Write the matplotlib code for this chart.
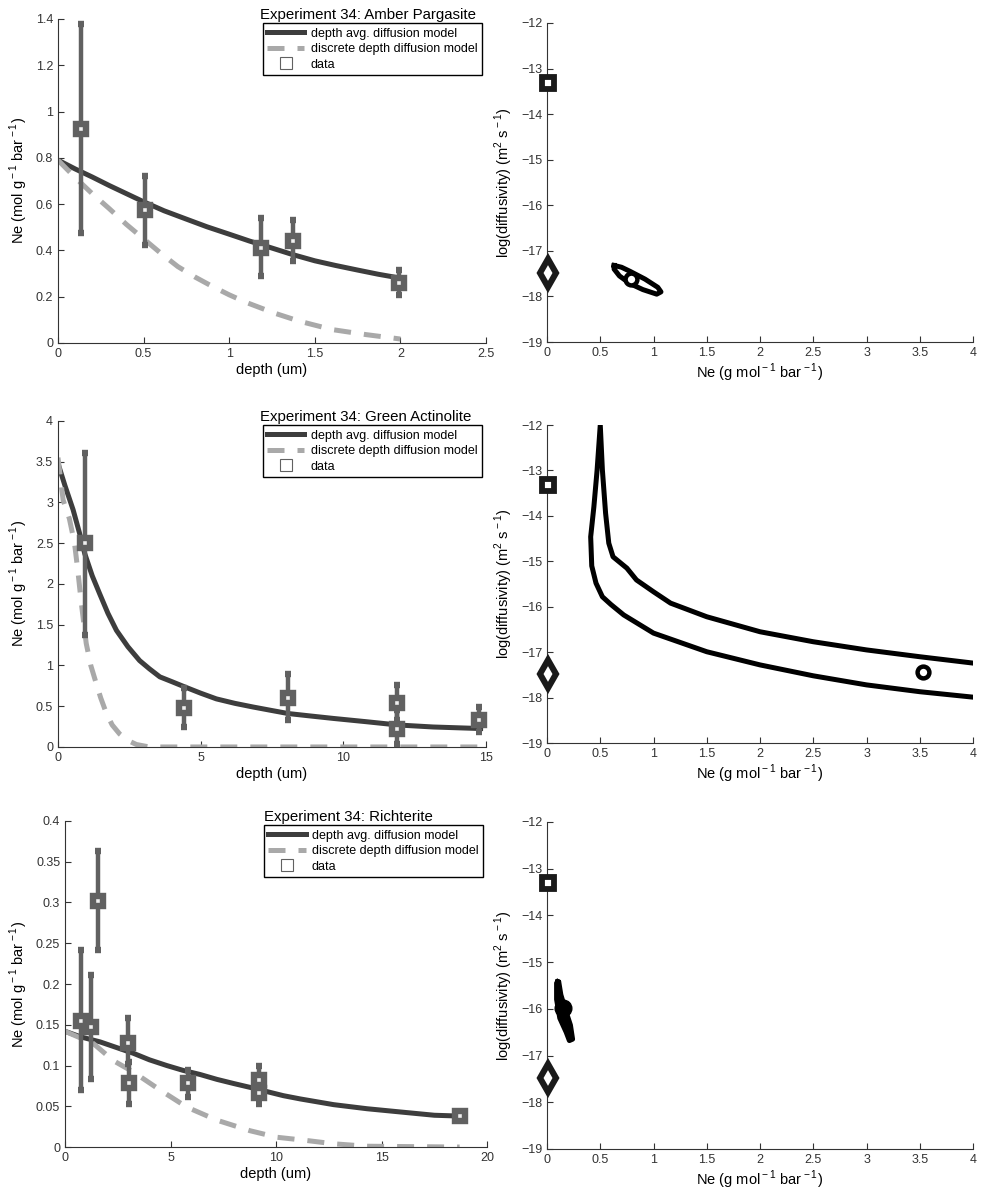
import numpy as np
import matplotlib
matplotlib.use('Agg')
import matplotlib.pyplot as plt
from matplotlib.lines import Line2D
from matplotlib.ticker import FuncFormatter

plt.rcParams['font.family'] = ['Liberation Sans', 'DejaVu Sans']
plt.rcParams['mathtext.fontset'] = 'custom'
plt.rcParams['mathtext.rm'] = 'Liberation Sans'
plt.rcParams['axes.edgecolor'] = '#333333'
plt.rcParams['xtick.color'] = '#333333'
plt.rcParams['ytick.color'] = '#333333'

# --- Amber Pargasite ---
amber_x = [0.136, 0.51, 1.187, 1.374, 1.99]
amber_y = [0.924, 0.576, 0.41, 0.441, 0.259]
amber_lo = [0.475, 0.424, 0.29, 0.355, 0.209]
amber_hi = [1.378, 0.722, 0.54, 0.53, 0.317]
amber_avg_x = [0, 0.1, 0.2, 0.3, 0.4, 0.5, 0.62, 0.75, 0.87, 1.0, 1.12, 1.25, 1.37, 1.5, 1.62, 1.75, 1.87, 2.0]
amber_avg_y = [0.79, 0.752, 0.717, 0.68, 0.645, 0.61, 0.571, 0.535, 0.502, 0.47, 0.44, 0.41, 0.382, 0.355, 0.335, 0.315, 0.297, 0.28]
amber_dis_x = [0, 0.1, 0.2, 0.3, 0.4, 0.5, 0.6, 0.7, 0.8, 0.9, 1.0, 1.1, 1.26, 1.41, 1.6, 1.8, 2.0]
amber_dis_y = [0.79, 0.715, 0.645, 0.58, 0.512, 0.45, 0.388, 0.33, 0.285, 0.245, 0.208, 0.175, 0.13, 0.094, 0.058, 0.036, 0.017]
amber_sq = (0.01, -13.31)
amber_dm = (0.01, -17.49)
amber_best = (0.79, -17.61)
amber_cont_x = [0.63, 0.70, 0.78, 0.92, 1.04, 1.07, 1.03, 0.90, 0.78, 0.68, 0.63, 0.63]
amber_cont_y = [-17.32, -17.36, -17.45, -17.62, -17.80, -17.90, -17.95, -17.85, -17.72, -17.55, -17.40, -17.32]

# --- Green Actinolite ---
green_x = [0.94, 4.42, 8.07, 11.89, 11.87, 14.75]
green_y = [2.50, 0.48, 0.60, 0.54, 0.225, 0.336]
green_lo = [1.37, 0.25, 0.33, 0.33, 0.04, 0.18]
green_hi = [3.61, 0.72, 0.89, 0.76, 0.45, 0.49]
green_avg_x = [0, 0.25, 0.53, 0.75, 0.94, 1.2, 1.46, 1.75, 2.05, 2.45, 2.86, 3.2, 3.57, 4.0, 4.42, 5.0, 5.55, 6.2, 6.84, 7.45, 8.07, 8.85, 9.65, 10.8, 11.9, 13.15, 14.9]
green_avg_y = [3.48, 3.2, 2.91, 2.63, 2.37, 2.1, 1.88, 1.64, 1.43, 1.23, 1.06, 0.96, 0.86, 0.8, 0.74, 0.66, 0.59, 0.535, 0.49, 0.45, 0.41, 0.38, 0.35, 0.31, 0.27, 0.245, 0.225]
green_dis_x = [0, 0.18, 0.4, 0.58, 0.7, 0.82, 0.99, 1.15, 1.34, 1.5, 1.7, 1.9, 2.16, 2.45, 2.75, 3.2, 15.0]
green_dis_y = [3.55, 3.03, 2.8, 2.5, 2.15, 1.76, 1.27, 1.0, 0.78, 0.6, 0.41, 0.27, 0.16, 0.08, 0.03, 0.0, 0.0]
green_sq = (0.01, -13.31)
green_dm = (0.01, -17.49)
green_best = (3.53, -17.44)
green_low_x = [0.50, 0.47, 0.44, 0.41, 0.42, 0.46, 0.52, 0.60, 0.72, 1.0, 1.5, 2.0, 2.5, 3.0, 3.5, 4.0]
green_low_y = [-12.0, -13.0, -13.8, -14.46, -15.1, -15.48, -15.78, -15.95, -16.18, -16.58, -16.99, -17.28, -17.52, -17.72, -17.87, -17.99]
green_up_x = [0.50, 0.52, 0.55, 0.58, 0.62, 0.75, 0.84, 1.0, 1.16, 1.5, 2.0, 2.5, 3.0, 3.5, 4.0]
green_up_y = [-12.0, -12.99, -13.94, -14.6, -14.9, -15.15, -15.41, -15.67, -15.92, -16.22, -16.55, -16.77, -16.95, -17.1, -17.24]

# --- Richterite ---
richt_x = [0.76, 1.22, 1.58, 2.96, 3.05, 5.85, 9.17, 9.17, 18.7]
richt_y = [0.155, 0.147, 0.302, 0.128, 0.079, 0.078, 0.082, 0.066, 0.038]
richt_lo = [0.070, 0.083, 0.242, 0.102, 0.053, 0.061, 0.066, 0.053, 0.035]
richt_hi = [0.242, 0.211, 0.363, 0.158, 0.104, 0.094, 0.099, 0.082, 0.041]
richt_avg_x = [0, 0.76, 1.66, 2.45, 3.24, 4.0, 4.82, 5.6, 6.4, 7.2, 7.98, 8.8, 9.57, 10.35, 11.15, 12.73, 14.31, 15.9, 17.5, 18.7]
richt_avg_y = [0.142, 0.135, 0.129, 0.122, 0.115, 0.107, 0.100, 0.094, 0.089, 0.083, 0.078, 0.073, 0.068, 0.063, 0.059, 0.052, 0.047, 0.043, 0.039, 0.038]
richt_dis_x = [0, 1.34, 2.29, 3.24, 4.5, 5.77, 7.19, 8.77, 10.04, 11.46, 12.73, 14.3, 18.7]
richt_dis_y = [0.142, 0.127, 0.106, 0.092, 0.070, 0.049, 0.033, 0.020, 0.012, 0.008, 0.004, 0.001, 0.0]
richt_sq = (0.01, -13.31)
richt_dm = (0.01, -17.49)
richt_best = (0.15, -15.98)
richt_cont_x = [0.10, 0.09, 0.09, 0.12, 0.18, 0.21, 0.24, 0.22, 0.17, 0.13, 0.11, 0.10]
richt_cont_y = [-15.42, -15.45, -15.8, -16.2, -16.5, -16.68, -16.65, -16.35, -16.0, -15.7, -15.42, -15.42]

titles = ["Experiment 34: Amber Pargasite", "Experiment 34: Green Actinolite",
          "Experiment 34: Richterite"]

c_avg = '#3d3d3d'
c_dis = '#a9a9a9'
c_dat = '#616161'

fig = plt.figure(figsize=(9.81, 11.9), dpi=100)

left_pos = [[0.0591, 0.7118, 0.4363, 0.2723],
            [0.0591, 0.3723, 0.4363, 0.2740],
            [0.0663, 0.0361, 0.4302, 0.2740]]
right_pos = [[0.5576, 0.7126, 0.4343, 0.2681],
             [0.5576, 0.3756, 0.4343, 0.2672],
             [0.5576, 0.0345, 0.4343, 0.2748]]


def fmt(v, pos):
    s = f'{v:g}'
    return s.replace('-', '\u2212')


def style(ax):
    ax.spines['top'].set_visible(False)
    ax.spines['right'].set_visible(False)
    ax.tick_params(direction='in', length=4, labelsize=9, width=0.8)
    ax.xaxis.set_major_formatter(FuncFormatter(fmt))
    ax.yaxis.set_major_formatter(FuncFormatter(fmt))


left_data = [
    (amber_x, amber_y, amber_lo, amber_hi, amber_avg_x, amber_avg_y, amber_dis_x, amber_dis_y,
     (0, 2.5), np.arange(0, 2.51, 0.5), (0, 1.4), np.arange(0, 1.41, 0.2)),
    (green_x, green_y, green_lo, green_hi, green_avg_x, green_avg_y, green_dis_x, green_dis_y,
     (0, 15), [0, 5, 10, 15], (0, 4), np.arange(0, 4.01, 0.5)),
    (richt_x, richt_y, richt_lo, richt_hi, richt_avg_x, richt_avg_y, richt_dis_x, richt_dis_y,
     (0, 20), [0, 5, 10, 15, 20], (0, 0.4), np.arange(0, 0.401, 0.05)),
]

for i, d in enumerate(left_data):
    x, y, lo, hi, ax_x, ax_y, dx, dy, xl, xt, yl, yt = d
    ax = fig.add_axes(left_pos[i])
    ax.plot(ax_x, ax_y, color=c_avg, lw=3.6, solid_capstyle='butt', solid_joinstyle='round', zorder=2)
    ax.plot(dx, dy, color=c_dis, lw=3.6, dashes=(3.4, 2.6), dash_capstyle='butt', zorder=2)
    y = np.array(y)
    yerr = [y - np.array(lo), np.array(hi) - y]
    ax.errorbar(x, y, yerr=yerr, fmt='s', color=c_dat, ecolor=c_dat, elinewidth=3.2,
                capsize=2.5, capthick=3.2, ms=7.6, mew=4.6, mfc='#f0f0f0', mec=c_dat,
                zorder=3, clip_on=False)
    ax.set_xlim(*xl)
    ax.set_ylim(*yl)
    ax.set_xticks(xt)
    ax.set_yticks(yt)
    style(ax)
    ax.set_xlabel('depth (um)', fontsize=10.5, labelpad=2)
    ax.set_ylabel(r'Ne (mol g$^{\rm -1}$ bar$^{\rm -1}$)', fontsize=10.5, labelpad=4)
    handles = [Line2D([], [], color=c_avg, lw=3.6),
               Line2D([], [], color=c_dis, lw=3.6, dashes=(3.4, 2.6)),
               Line2D([], [], color=c_dat, ls='none', marker='s', ms=8, mfc='white', mew=0.8)]
    leg = ax.legend(handles, ['depth avg. diffusion model', 'discrete depth diffusion model', 'data'],
                    loc='upper right', bbox_to_anchor=(0.99, 0.987), fontsize=9, frameon=True,
                    fancybox=False, edgecolor='black', framealpha=1, borderpad=0.35,
                    labelspacing=0.28, handlelength=3.0, handletextpad=0.5, borderaxespad=0)
    leg.get_frame().set_linewidth(1.0)
    ax.text(0.472, 0.99, titles[i], transform=ax.transAxes, fontsize=10.8, ha='left', va='bottom')

right_data = [
    (amber_sq, amber_dm, amber_best, [(amber_cont_x, amber_cont_y)], 'ring'),
    (green_sq, green_dm, green_best, [(green_low_x[::-1] + green_up_x, green_low_y[::-1] + green_up_y)], 'ring'),
    (richt_sq, richt_dm, richt_best, [(richt_cont_x, richt_cont_y)], 'fill'),
]

for i, (sq, dm, best, conts, kind) in enumerate(right_data):
    ax = fig.add_axes(right_pos[i])
    for cx, cy in conts:
        ax.plot(cx, cy, color='black', lw=3.6, solid_joinstyle='round', zorder=2)
    if kind == 'fill':
        ax.fill(richt_cont_x, richt_cont_y, color='black', zorder=2)
        ax.plot(*best, marker='o', ms=12, color='black', ls='none', zorder=3)
    else:
        ax.plot(*best, marker='o', ms=8.5, mew=3.2, mfc='white', mec='black', ls='none', zorder=3)
    ax.plot(*sq, marker='s', ms=8.2, mew=4.2, mfc='white', mec='#1a1a1a', ls='none',
            zorder=4, clip_on=False)
    ax.plot(*dm, marker='d', ms=14, mew=4.4, mfc='white', mec='#1a1a1a', ls='none',
            zorder=4, clip_on=False)
    ax.set_xlim(0, 4)
    ax.set_ylim(-19, -12)
    ax.set_xticks(np.arange(0, 4.01, 0.5))
    ax.set_yticks(np.arange(-19, -11.9, 1))
    style(ax)
    ax.set_xlabel(r'Ne (g mol$^{\rm -1}$ bar$^{\rm -1}$)', fontsize=10.5, labelpad=2)
    ax.set_ylabel(r'log(diffusivity) (m$^{\rm 2}$ s$^{\rm -1}$)', fontsize=10.5, labelpad=4)

fig.savefig('out.png', dpi=100)
